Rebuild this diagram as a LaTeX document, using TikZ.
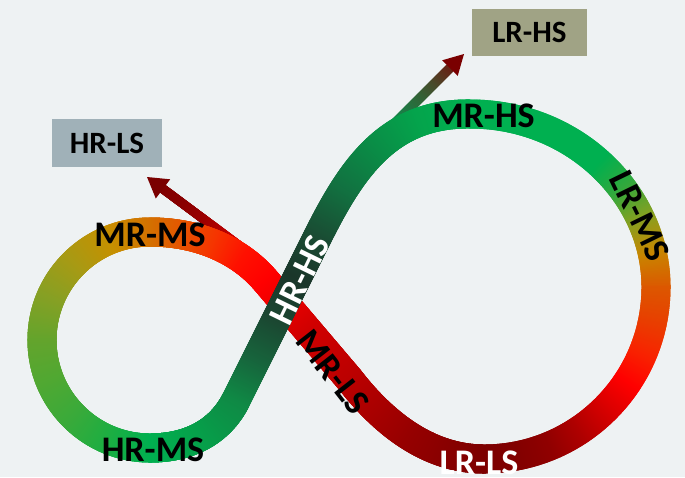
\documentclass[tikz,border=0pt]{standalone}
\usepackage{fontspec}
\setmainfont{Carlito}
\usetikzlibrary{decorations.markings}

\definecolor{canvas}{HTML}{EEF2F3}
\definecolor{greybox}{HTML}{A0B1B8}
\definecolor{olivebox}{HTML}{A0A385}
\definecolor{tipred}{HTML}{7A0000}

% colour stops of a ribbon piece: bs0, bs1, ... and their count
\newcount\stopcount
\def\bandhw{14.5pt}
\makeatletter
\def\setstops#1{%
  \stopcount=0
  \@for\stopval:=#1\do{%
    \edef\stopdef{\noexpand\definecolor{bs\the\stopcount}{HTML}{\stopval}}\stopdef
    \advance\stopcount by 1\relax}%
  \advance\stopcount by -1\relax}
\makeatother

% one slice of the ribbon, coloured by its place along the piece
\def\bandmark{%
  \pgfmathsetmacro\bandf{(\pgfkeysvalueof{/pgf/decoration/mark info/sequence number}-1)*0.004*\the\stopcount}%
  \pgfmathtruncatemacro\bandi{min(floor(\bandf),\the\stopcount-1)}%
  \pgfmathtruncatemacro\bandj{\bandi+1}%
  \pgfmathsetmacro\bandt{max(0,min(100,100*(\bandf-\bandi)))}%
  \fill[bs\bandj!\bandt!bs\bandi] (-1.2pt,-\bandhw) rectangle (1.2pt,\bandhw);%
}

\tikzset{
  band/.style={/utils/exec={\setstops{#1}},
    decoration={markings,mark=between positions 0 and 1 step 0.004 with {\bandmark}},
    decorate},
  shaft/.style={/utils/exec={\def\bandhw{4.5pt}}, band={#1}},
  bandtext/.style={font=\fontsize{36}{36}\selectfont\bfseries, inner sep=0pt},
  statebox/.style={font=\fontsize{31}{31}\selectfont\bfseries, inner sep=0pt},
}

\begin{document}
\begin{tikzpicture}[x=1pt,y=-1pt]
\fill[canvas] (0,0) rectangle (685,477);
\useasboundingbox (0,0) rectangle (685,477);

% state boxes
\node[statebox, fill=greybox, minimum width=110pt, minimum height=48pt] (hrls) at (107,143) {HR-LS};
\node[statebox, fill=olivebox, minimum width=115pt, minimum height=47pt] (lrhs) at (529.5,32.5) {LR-HS};

% arrow leaving the red strand
\coordinate (hrlsBase) at (241.6,247.4);
\coordinate (hrlsHead) at (163,188.9);
\coordinate (hrlsTip) at (147,177);
\path[shaft={F00000,B80000,9C0000,8A0000,800000}] (hrlsBase) -- (hrlsHead);
\fill[tipred] (hrlsTip) -- (155.8,198.5) -- (170.2,179.3) -- cycle;

% arrow leaving the green strand
\coordinate (lrhsBase) at (389.8,128.2);
\coordinate (lrhsHead) at (449.9,68.1);
\coordinate (lrhsTip) at (464,54);
\path[shaft={0C8A46,1C7E46,306638,4A4A2A,662416}] (lrhsBase) -- (lrhsHead);
\fill[tipred] (lrhsTip) -- (457.7,75.9) -- (442.1,60.3) -- cycle;

% right loop
\path[band={00B050,00B050,00B050,00B050,00B050,34A83C,88A020,C88600,DC5800}]
  (470,114) .. controls (575,114) and (656,195) .. (656,287);
\path[band={DC5800,E84000,F82400,FF0000,D80000,B00000,900000,820000,7C0000}]
  (656,287) .. controls (656,382) and (579,459) .. (484,459);
% red strand
\path[band={7C0000,960000,BA0000}]
  (484,459) .. controls (430,459) and (385,425) .. (350,380);
\path[band={BA0000,D00000,FF0000}] (350,380) -- (265,280);
\path[band={FF0000,FF1000,F63400,E65400,D47000}]
  (265,280) .. controls (239,250) and (198,232) .. (150,232);
% left loop
\path[band={D47000,C69000,A89A14,86A024,64A42C}]
  (150,232) .. controls (90.4,232) and (42,280.4) .. (42,340);
\path[band={64A42C,50A832,3AAA3A,1CAE42,00B050}]
  (42,340) .. controls (42,399.6) and (90.4,448) .. (150,448);
% green strand, on top at the crossing
\path[band={00B050,06A04A,0F8A45}]
  (150,448) .. controls (194,448) and (222,428) .. (236,400);
\path[band={0F8A45,17643C,1B4631,1A362A,1A4C33}] (236,400) -- (318,236);
\path[band={1A4C33,127040,0A8C46,04A44C,00B050}]
  (318,236) .. controls (353,166) and (390,113) .. (470,114);

% state labels on the ribbon
\node[bandtext] (mrms) at (150,235) {MR-MS};
\node[bandtext] (hrms) at (153,450) {HR-MS};
\node[bandtext] (mrhs) at (483.5,116) {MR-HS};
\node[bandtext, text=white] (lrls) at (479,463) {LR-LS};
\node[bandtext, text=white, rotate=64] (hrhs) at (300,280) {HR-HS};
\node[bandtext, rotate=-52] (mrls) at (333,372) {MR-LS};
\node[bandtext, rotate=-64] (lrms) at (640,216) {LR-MS};
\end{tikzpicture}
\end{document}
